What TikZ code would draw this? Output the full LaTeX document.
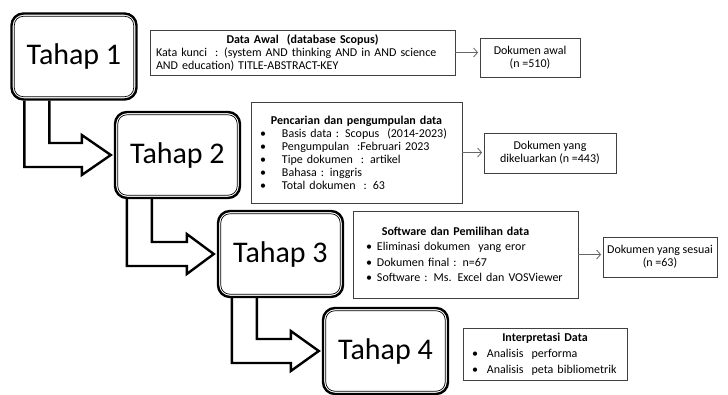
\documentclass[tikz,border=0pt]{standalone}
\usepackage{fontspec}
\setmainfont{Carlito}
\usetikzlibrary{calc,arrows.meta}
\newcommand{\judul}[1]{\makebox[\linewidth][c]{\textbf{#1}}}
\newcommand{\butir}[2][22pt]{\makebox[#1][l]{\textbullet}#2}

\begin{document}
\begin{tikzpicture}[x=1pt, y=-1pt, thick]
	% Stili per tahap, kotak e frecce
	\tikzset{
		tahap/.style={draw, line width=2.4pt, rounded corners=12pt, minimum width=125pt, minimum height=86pt, inner sep=0pt, font=\fontsize{30}{34}\selectfont,
			path picture={\draw[line width=0.7pt, rounded corners=9pt] ([shift={(2.8pt,-2.8pt)}]path picture bounding box.north west) rectangle ([shift={(-2.8pt,2.8pt)}]path picture bounding box.south east);}},
		kotak/.style={draw=black!75, line width=0.8pt, inner ysep=2pt, align=left, font=\fontsize{12}{13}\selectfont},
		hasil/.style={kotak, align=center, inner sep=2pt},
		panah/.style={draw=black!60, line width=0.8pt, shorten >=1.5pt, -{Straight Barb[length=4pt,width=9pt]}},
		blok/.style={line width=2.4pt, line join=miter}
	}
	\useasboundingbox (0,0) rectangle (728,394);
	
	% Tahap (a scalini)
	\node[tahap] (t1) at (74,56.5) {Tahap 1};
	\node[tahap] (t2) at (177.5,155) {Tahap 2};
	\node[tahap] (t3) at (280.5,254) {Tahap 3};
	\node[tahap] (t4) at (385.5,351) {Tahap 4};
	
	% Frecce a blocco tra i tahap
	\draw[blok] ($(t1.south west)+(14,0)$) |- ($(t2.west)+(-32,12)$) -- ++(0,8) -- ($(t2.west)+(-3,0)$) -- ($(t2.west)+(-32,-20)$) -- ++(0,8) -| ($(t1.south west)+(39,0)$);
	\draw[blok] ($(t2.south west)+(13,0)$) |- ($(t3.west)+(-30,12)$) -- ++(0,8) -- ($(t3.west)+(-3,0)$) -- ($(t3.west)+(-30,-20)$) -- ++(0,8) -| ($(t2.south west)+(38,0)$);
	\draw[blok] ($(t3.south west)+(15,0)$) |- ($(t4.west)+(-31,12)$) -- ++(0,8) -- ($(t4.west)+(-3,0)$) -- ($(t4.west)+(-31,-20)$) -- ++(0,8) -| ($(t3.south west)+(40,0)$);
	
	% Kotak di destra
	\node[kotak, inner xsep=6pt, text width=293pt, minimum height=45pt] (a) at (302.5,52.5)
		{\judul{Data Awal\ \ (database Scopus)}\\
		 Kata kunci\ \ : (system AND thinking\ AND in AND science\\
		 AND education) TITLE-ABSTRACT-KEY};
	\node[kotak, inner xsep=9pt, text width=193pt, minimum height=101pt] (b) at (356.5,152.5)
		{\judul{Pencarian dan pengumpulan data}\\
		 \butir{Basis data : Scopus\ \ (2014-2023)}\\
		 \butir{Pengumpulan\ \ :Februari 2023}\\
		 \butir{Tipe dokumen\ \ : artikel}\\
		 \butir{Bahasa : inggris}\\
		 \butir{Total dokumen\ \ : 63}};
	\node[kotak, inner xsep=13pt, text width=199pt, minimum height=87pt, font=\fontsize{12}{15.5}\selectfont] (c) at (465.5,254.5)
		{\judul{Software dan Pemilihan data\hspace*{20pt}}\\
		 \butir[11pt]{Eliminasi dokumen\ \ yang eror}\\
		 \butir[11pt]{Dokumen final : n=67}\\
		 \butir[11pt]{Software : Ms. Excel dan VOSViewer}};
	\node[kotak, inner xsep=9pt, text width=146pt, minimum height=52pt, font=\fontsize{12}{16}\selectfont] (d) at (545,354)
		{\judul{Interpretasi Data}\\
		 \butir[15pt]{Analisis\ \ performa}\\
		 \butir[15pt]{Analisis\ \ peta bibliometrik}};
	
	% Kotak hasil
	\node[hasil, minimum width=100pt, minimum height=39pt] (r1) at (530,57.5) {Dokumen awal\\(n =510)};
	\node[hasil, minimum width=132pt, minimum height=40pt] (r2) at (550,153) {Dokumen yang\\dikeluarkan (n =443)};
	\node[hasil, minimum width=114pt, minimum height=40pt] (r3) at (660,257) {Dokumen yang sesuai\\(n =63)};
	
	\draw[panah] (a.east) -- (a.east -| r1.west);
	\draw[panah] (b.east) -- (b.east -| r2.west);
	\draw[panah] (c.east) -- (c.east -| r3.west);
	
\end{tikzpicture}
\end{document}
